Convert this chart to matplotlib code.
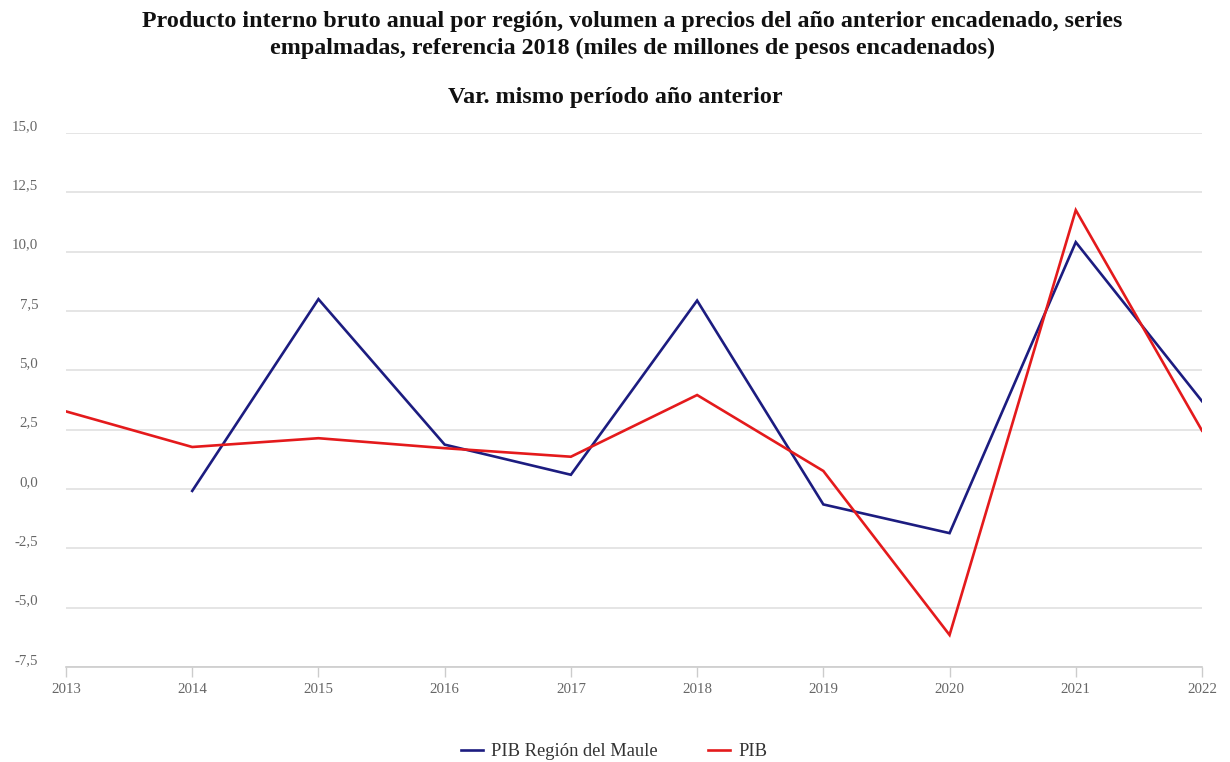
import matplotlib
matplotlib.use("Agg")
import matplotlib.pyplot as plt
from matplotlib.ticker import FuncFormatter

years = [2013, 2014, 2015, 2016, 2017, 2018, 2019, 2020, 2021, 2022]
maule_years = [2014, 2015, 2016, 2017, 2018, 2019, 2020, 2021, 2022]
maule = [-0.08, 8.0, 1.87, 0.6, 7.94, -0.65, -1.86, 10.4, 3.7]
pib = [3.27, 1.77, 2.14, 1.72, 1.36, 3.96, 0.76, -6.15, 11.75, 2.46]
yticks = [-7.5, -5.0, -2.5, 0.0, 2.5, 5.0, 7.5, 10.0, 12.5, 15.0]

plt.rcParams['font.family'] = ['Liberation Serif', 'DejaVu Serif']

fig = plt.figure(figsize=(12.3, 7.62), dpi=100)
ax = fig.add_axes([66/1230, 95/762, (1202-66)/1230, (667-133)/762])

ax.plot(maule_years, maule, color='#1c1c80', lw=1.9, label='PIB Región del Maule', solid_joinstyle='miter')
ax.plot(years, pib, color='#e41a1c', lw=1.9, label='PIB', solid_joinstyle='miter')

ax.set_xlim(2013, 2022)
ax.set_ylim(-7.5, 15.0)
ax.set_yticks(yticks)
ax.yaxis.set_major_formatter(FuncFormatter(lambda v, p: f"{v:.1f}".replace('.', ',')))
ax.set_xticks(years)
ax.set_xticklabels([str(y) for y in years])
ax.grid(axis='y', color='#e0e0e0', lw=1.2)
ax.set_axisbelow(True)
for s in ['top', 'right', 'left']:
    ax.spines[s].set_visible(False)
ax.spines['bottom'].set_color('#cccccc')
ax.spines['bottom'].set_linewidth(1.2)
ax.tick_params(axis='y', length=0, pad=20, labelsize=10.7, labelcolor='#666666')
ax.tick_params(axis='x', length=7.5, color='#cccccc', width=1, pad=4, labelsize=10.7, labelcolor='#666666')
for lab in ax.get_yticklabels():
    lab.set_verticalalignment('bottom')

title_kw = dict(ha='center', va='center', fontsize=17.3, fontweight='bold', color='#111111')
fig.text(632/1230, 1 - 21/762, 'Producto interno bruto anual por región, volumen a precios del año anterior encadenado, series', **title_kw)
fig.text(632/1230, 1 - 48/762, 'empalmadas, referencia 2018 (miles de millones de pesos encadenados)', **title_kw)
fig.text(615/1230, 1 - 98/762, 'Var. mismo período año anterior', **title_kw)

leg = fig.legend(loc='center', bbox_to_anchor=(614/1230, 1 - 752/762), ncol=2, frameon=False,
                 fontsize=13.3, handlelength=1.2, columnspacing=2.7, handletextpad=0.45)
for t in leg.get_texts():
    t.set_color('#333333')

fig.savefig('out.png', dpi=100)
